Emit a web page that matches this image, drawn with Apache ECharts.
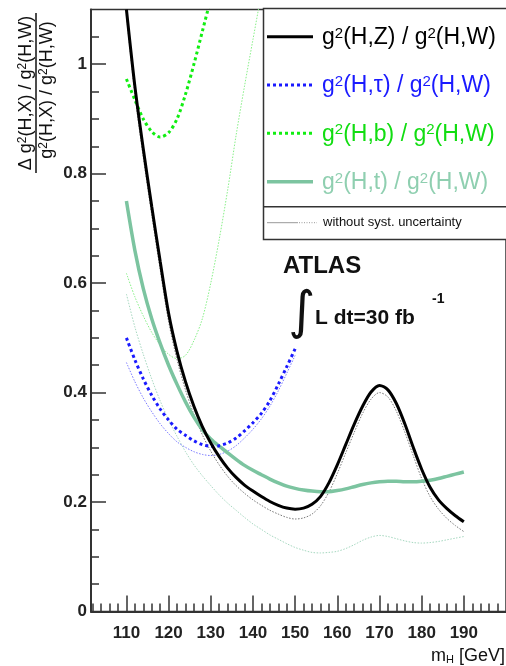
<!DOCTYPE html>
<html>
<head>
<meta charset="utf-8">
<script src="https://cdn.jsdelivr.net/npm/echarts@6/dist/echarts.min.js"></script>
<style>
html,body{margin:0;padding:0;background:#fff;}
#c{width:506px;height:666px;}
</style>
</head>
<body>
<div id="c"></div>
<script>
// ---- data ----
const mH_full = [110,112,114,116,118,120,122,124,126,128,130,132,134,136,138,140,142,144,146,148,150,152,154,156,158,160,162,164,166,168,170,172,174,176,178,180,182,184,186,188,190];
const mH_tau = [110,112,114,116,118,120,122,124,126,128,130,132,134,136,138,140,142,144,146,148,150];
const mH_b = [110,112,114,116,118,120,122,124,126,128,130];
const mH_bNoSyst = [110,112,114,116,118,120,122,124,126,128,130,132,134,136,138,140,142];

const gZ = [1.10,0.96,0.845,0.74,0.64,0.545,0.475,0.42,0.375,0.338,0.308,0.283,0.262,0.245,0.231,0.22,0.21,0.201,0.194,0.189,0.187,0.189,0.196,0.21,0.235,0.268,0.305,0.342,0.375,0.401,0.413,0.405,0.38,0.343,0.30,0.26,0.227,0.204,0.188,0.175,0.164];
const gZ_noSyst = [1.09,0.945,0.83,0.725,0.625,0.53,0.46,0.405,0.36,0.323,0.293,0.268,0.247,0.23,0.216,0.204,0.194,0.185,0.178,0.172,0.169,0.171,0.178,0.193,0.218,0.252,0.29,0.327,0.362,0.388,0.40,0.392,0.366,0.328,0.285,0.243,0.21,0.187,0.17,0.157,0.146];
const gTau = [0.50,0.46,0.425,0.395,0.37,0.35,0.333,0.322,0.312,0.305,0.302,0.303,0.308,0.317,0.33,0.345,0.362,0.385,0.415,0.447,0.48];
const gTau_noSyst = [0.455,0.42,0.39,0.365,0.343,0.325,0.31,0.30,0.292,0.287,0.285,0.287,0.293,0.303,0.317,0.333,0.352,0.375,0.403,0.435,0.468];
const gB = [0.973,0.935,0.90,0.877,0.867,0.875,0.90,0.945,1.00,1.06,1.12];
const gB_noSyst = [0.618,0.575,0.54,0.51,0.487,0.47,0.462,0.468,0.495,0.535,0.60,0.68,0.77,0.87,0.96,1.045,1.13];
const gT = [0.75,0.66,0.59,0.535,0.49,0.45,0.415,0.383,0.355,0.332,0.315,0.302,0.29,0.278,0.267,0.258,0.25,0.242,0.235,0.229,0.225,0.222,0.22,0.219,0.219,0.221,0.224,0.228,0.232,0.235,0.237,0.238,0.238,0.237,0.237,0.238,0.24,0.243,0.247,0.251,0.255];
const gT_noSyst = [0.58,0.52,0.47,0.425,0.385,0.35,0.32,0.292,0.268,0.248,0.23,0.213,0.198,0.185,0.172,0.16,0.15,0.14,0.132,0.124,0.117,0.112,0.108,0.107,0.108,0.11,0.115,0.122,0.13,0.136,0.139,0.137,0.133,0.129,0.126,0.125,0.126,0.128,0.131,0.134,0.137];

const xTickLabels = [110,120,130,140,150,160,170,180,190];
const xMinorTicks = [102,104,106,108,112,114,116,118,122,124,126,128,132,134,136,138,142,144,146,148,152,154,156,158,162,164,166,168,172,174,176,178,182,184,186,188,192,194,196,198];
const yTickLabels = [0,0.2,0.4,0.6,0.8,1.0];
const yMinorTicks = [0.05,0.1,0.15,0.25,0.3,0.35,0.45,0.5,0.55,0.65,0.7,0.75,0.85,0.9,0.95,1.05];

const legendNames = ['g{sup|2}(H,Z) / g{sup|2}(H,W)','g{sup|2}(H,\u03C4) / g{sup|2}(H,W)','g{sup|2}(H,b) / g{sup|2}(H,W)','g{sup|2}(H,t) / g{sup|2}(H,W)'];
const noSystLabel = 'without syst. uncertainty';

// ---- styles ----
const C_Z = '#000000', C_TAU = '#1a1aff', C_B = '#11ee11', C_T = '#7cc4a0';
const FONT = '"Liberation Sans", Arial, Helvetica, sans-serif';

function pairs(xs, ys){ return xs.map((x,i)=>[x, ys[i]]); }

function lineSeries(name, xs, ys, color, width, type, z){
  return {
    name: name, type: 'line', xAxisIndex: 0, yAxisIndex: 0,
    data: pairs(xs, ys), showSymbol: false, symbol: 'none', smooth: 0.3,
    clip: true, silent: true, z: z,
    lineStyle: {color: color, width: width, type: type, cap: 'butt'}
  };
}

const chart = echarts.init(document.getElementById('c'), null, {renderer: 'canvas'});

const axisColor = '#333';
const labelStyle = {fontFamily: FONT, fontSize: 17, fontWeight: 'bold', color: '#222'};

const option = {
  animation: false,
  backgroundColor: '#fff',
  grid: {left: 91, top: 9.5, width: 425, height: 602, show: true, borderColor: axisColor, borderWidth: 1.5, backgroundColor: 'transparent'},
  xAxis: [
    {type: 'value', min: 101.6, max: 200, position: 'bottom',
     axisLine: {show: true, onZero: false, lineStyle: {color: axisColor, width: 2}},
     axisTick: {show: true, inside: true, length: 16, customValues: xTickLabels, lineStyle: {color: axisColor, width: 1.5}},
     axisLabel: Object.assign({show: true, margin: 13, customValues: xTickLabels}, labelStyle),
     splitLine: {show: false}},
    {type: 'value', min: 101.6, max: 200, position: 'bottom',
     axisLine: {show: false},
     axisTick: {show: true, inside: true, length: 8, customValues: xMinorTicks, lineStyle: {color: axisColor, width: 1.5}},
     axisLabel: {show: false}, splitLine: {show: false}}
  ],
  yAxis: [
    {type: 'value', min: 0, max: 1.1, position: 'left',
     axisLine: {show: true, onZero: false, lineStyle: {color: axisColor, width: 2}},
     axisTick: {show: true, inside: true, length: 15, customValues: yTickLabels, lineStyle: {color: axisColor, width: 1.5}},
     axisLabel: Object.assign({show: true, margin: 4, padding: [5,0,0,0], customValues: yTickLabels,
       formatter: function(v){ return (v === 0 || v === 1) ? String(v) : v.toFixed(1); }}, labelStyle),
     splitLine: {show: false}},
    {type: 'value', min: 0, max: 1.1, position: 'left',
     axisLine: {show: false},
     axisTick: {show: true, inside: true, length: 8, customValues: yMinorTicks, lineStyle: {color: axisColor, width: 1.5}},
     axisLabel: {show: false}, splitLine: {show: false}}
  ],
  series: [
    lineSeries('T no syst', mH_full, gT_noSyst, '#a6d8c0', 1, [1.5,1.5], 2),
    lineSeries('B no syst', mH_bNoSyst, gB_noSyst, '#88f088', 1, [1.5,1.5], 2),
    lineSeries('Tau no syst', mH_tau, gTau_noSyst, '#7a7aff', 1, [1.5,1.5], 2),
    lineSeries('Z no syst', mH_full, gZ_noSyst, '#777777', 1, [1.5,1.5], 2),
    lineSeries('T', mH_full, gT, C_T, 3.5, 'solid', 3),
    lineSeries('B', mH_b, gB, C_B, 3, [3,3], 4),
    lineSeries('Tau', mH_tau, gTau, C_TAU, 3, [3,3], 4),
    lineSeries('Z', mH_full, gZ, C_Z, 3, 'solid', 5)
  ],
  graphic: {elements: buildGraphics()}
};

function buildGraphics(){
  const els = [];
  // legend box
  els.push({type: 'rect', z: 100, shape: {x: 263.5, y: 8.5, width: 260, height: 231},
    style: {fill: '#fff', stroke: '#333', lineWidth: 1.5}});
  els.push({type: 'line', z: 101, shape: {x1: 263.5, y1: 206.7, x2: 510, y2: 206.7},
    style: {stroke: '#333', lineWidth: 1.5}});
  const rows = [36.7, 85, 133.3, 181.7];
  const cols = [C_Z, C_TAU, C_B, C_T];
  const textCols = ['#000', '#1a1aff', '#11dd11', '#8fcfb0'];
  const dashes = [null, [3,3], [3,3], null];
  const widths = [3, 3, 3, 3.5];
  rows.forEach((y, i) => {
    els.push({type: 'line', z: 102, shape: {x1: 267, y1: y, x2: 313, y2: y},
      style: {stroke: cols[i], lineWidth: widths[i], lineDash: dashes[i]}});
    els.push({type: 'text', z: 102, x: 322, y: y + 1,
      style: {text: legendNames[i], fill: textCols[i],
        fontSize: 23, fontFamily: FONT, align: 'left', verticalAlign: 'middle',
        rich: {sup: {fontSize: 15, fontFamily: FONT, fill: textCols[i], verticalAlign: 'top', lineHeight: 15}}}});
  });
  // no-syst row
  els.push({type: 'line', z: 102, shape: {x1: 267, y1: 222.7, x2: 298, y2: 222.7}, style: {stroke: '#999', lineWidth: 1}});
  els.push({type: 'line', z: 102, shape: {x1: 299, y1: 222.7, x2: 317, y2: 222.7}, style: {stroke: '#999', lineWidth: 1, lineDash: [1,1.5]}});
  els.push({type: 'text', z: 102, x: 323, y: 222.7,
    style: {text: noSystLabel, fill: '#111', fontSize: 13, fontFamily: FONT, align: 'left', verticalAlign: 'middle'}});

  // ATLAS label
  els.push({type: 'text', z: 90, x: 283, y: 266,
    style: {text: 'ATLAS', fill: '#111', fontSize: 24, fontWeight: 'bold', fontFamily: FONT, align: 'left', verticalAlign: 'middle'}});
  els.push({type: 'text', z: 90, x: 288, y: 314,
    style: {text: '\u222B', fill: '#111', fontSize: 52, fontFamily: '"DejaVu Sans", sans-serif', align: 'left', verticalAlign: 'middle'}});
  els.push({type: 'text', z: 90, x: 315, y: 318,
    style: {text: 'L dt=30 fb', fill: '#111', fontSize: 21, fontWeight: 'bold', fontFamily: FONT, align: 'left', verticalAlign: 'middle'}});
  els.push({type: 'text', z: 90, x: 432, y: 299,
    style: {text: '-1', fill: '#111', fontSize: 14, fontWeight: 'bold', fontFamily: FONT, align: 'left', verticalAlign: 'middle'}});

  // y axis title (fraction, rotated)
  els.push({type: 'text', z: 90, x: 26, y: 93, rotation: Math.PI / 2,
    style: {text: '\u0394 g{sup|2}(H,X) / g{sup|2}(H,W)', fill: '#111', fontSize: 18, fontFamily: FONT,
      align: 'center', verticalAlign: 'middle',
      rich: {sup: {fontSize: 12, fontFamily: FONT, fill: '#111', verticalAlign: 'top', lineHeight: 12}}}});
  els.push({type: 'line', z: 90, shape: {x1: 36, y1: 13, x2: 36, y2: 173}, style: {stroke: '#111', lineWidth: 1.5}});
  els.push({type: 'text', z: 90, x: 47, y: 90, rotation: Math.PI / 2,
    style: {text: 'g{sup|2}(H,X) / g{sup|2}(H,W)', fill: '#111', fontSize: 18, fontFamily: FONT,
      align: 'center', verticalAlign: 'middle',
      rich: {sup: {fontSize: 12, fontFamily: FONT, fill: '#111', verticalAlign: 'top', lineHeight: 12}}}});

  // x axis title
  els.push({type: 'text', z: 90, x: 505, y: 656,
    style: {text: 'm{sub|H} [GeV]', fill: '#111', fontSize: 18, fontFamily: FONT, align: 'right', verticalAlign: 'middle',
      rich: {sub: {fontSize: 11, fontFamily: FONT, fill: '#111', verticalAlign: 'bottom', lineHeight: 11}}}});
  return els;
}

chart.setOption(option);
</script>
</body>
</html>
